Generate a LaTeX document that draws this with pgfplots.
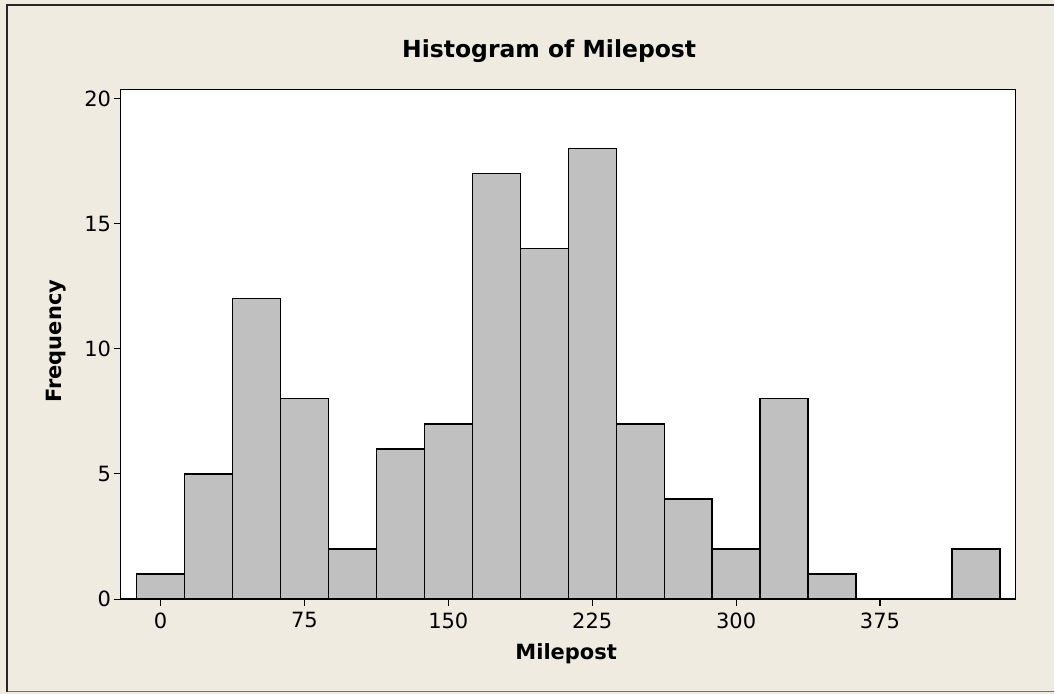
\documentclass[border=0pt]{standalone}
\usepackage{pgfplots}
\pgfplotsset{compat=1.18}
\usepackage{fontspec}
\setmainfont{DejaVu Sans}
\definecolor{bgc}{HTML}{EFEBE1}
\definecolor{barc}{HTML}{C0C0C0}
\begin{document}
\begin{tikzpicture}
\fill[bgc] (0pt,0pt) rectangle (1055pt,694pt);
\draw[color=black!55, line width=1.5pt] (7pt,2pt) -- (1055pt,2pt);
\draw[color=black!85, line width=1.5pt] (7pt,2pt) -- (7pt,689pt) -- (1055pt,689pt);
\begin{axis}[
  at={(120.7pt,94.5pt)}, anchor=south west,
  scale only axis, width=895.3pt, height=510pt,
  xmin=-20.8, xmax=445.5, ymin=0, ymax=20.36,
  axis background/.style={fill=white},
  axis line style={line width=1.4pt, black},
  xtick={0,75,150,225,300,375},
  ytick={0,5,10,15,20},
  tick align=outside, major tick length=7pt,
  tick style={line width=1.1pt, black},
  xtick pos=bottom, ytick pos=left,
  /pgf/number format/assume math mode=true,
  ticklabel style={font=\fontsize{21}{25}\selectfont},
  xticklabel style={yshift=-3pt},
  yticklabel style={xshift=1pt},
  title={Histogram of Milepost},
  title style={font=\fontsize{23.5}{27}\selectfont\bfseries, at={(axis description cs:0.479,1.051)}, anchor=base},
  xlabel={Milepost},
  xlabel style={font=\fontsize{21}{25}\selectfont\bfseries, at={(axis description cs:0.498,-0.1186)}, anchor=base},
  ylabel={Frequency},
  ylabel style={font=\fontsize{21}{25}\selectfont\bfseries, at={(axis description cs:-0.0661,0.506)}, anchor=base, rotate=0},
]
\addplot[ybar, bar width=25, bar shift=0pt, fill=barc, draw=black, line width=1.3pt] coordinates {
(0,1) (25,5) (50,12) (75,8) (100,2) (125,6) (150,7) (175,17) (200,14)
(225,18) (250,7) (275,4) (300,2) (325,8) (350,1) (375,0) (400,0) (425,2)
};
\end{axis}
\end{tikzpicture}
\end{document}
